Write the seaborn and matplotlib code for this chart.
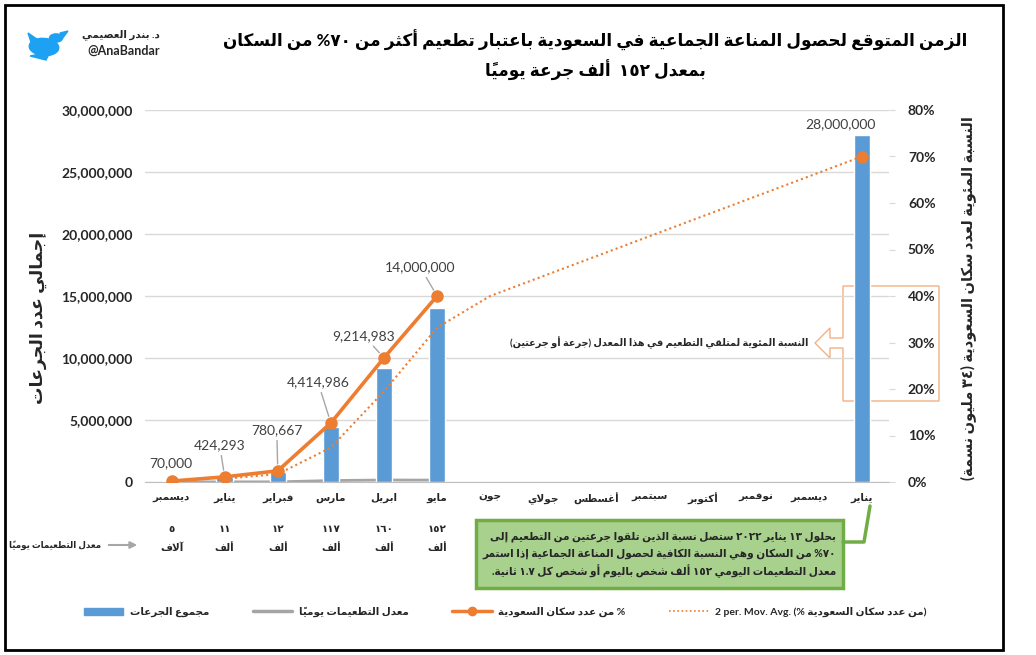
import matplotlib
matplotlib.use('Agg')
import numpy as np
import pandas as pd
import matplotlib.pyplot as plt
import seaborn as sns
from matplotlib.patches import Rectangle, Polygon, Patch, Ellipse, Circle
from matplotlib.lines import Line2D

nan = np.nan

# ---- data ----
months = ['ديسمبر', 'يناير', 'فبراير', 'مارس', 'ابريل', 'مايو', 'جون', 'جولاي',
          'أغسطس', 'سبتمبر', 'أكتوبر', 'نوفمبر', 'ديسمبر', 'يناير']
total_doses = [70000, 424293, 780667, 4414986, 9214983, 14000000,
               nan, nan, nan, nan, nan, nan, nan, 28000000]
daily_rate = [5000, 11000, 12000, 117000, 160000, 152000,
              nan, nan, nan, nan, nan, nan, nan, nan]
pct_population = [0.002, 0.011, 0.024, 0.127, 0.267, 0.40,
                  nan, nan, nan, nan, nan, nan, nan, 0.70]
moving_avg = [nan, 0.007, 0.017, 0.074, 0.195, 0.332, 0.40,
              nan, nan, nan, nan, nan, nan, 0.70]
rate_numbers = ['٥', '١١', '١٢', '١١٧', '١٦٠', '١٥٢']
rate_units = ['آلاف', 'ألف', 'ألف', 'ألف', 'ألف', 'ألف']

title_lines = ['الزمن المتوقع لحصول المناعة الجماعية في السعودية باعتبار تطعيم أكثر من ٧٠% من السكان',
               'بمعدل ١٥٢  ألف جرعة يومياً']
left_label = 'إجمالي عدد الجرعات'
right_label = 'النسبة المئوية لعدد سكان السعودية (٣٤ مليون نسمة)'
rate_row_label = 'معدل التطعيمات يومياً'
callout_text = 'النسبة المئوية لمتلقي التطعيم في هذا المعدل (جرعة أو جرعتين)'
note_lines = ['بحلول ١٣ يناير ٢٠٢٢ ستصل نسبة الذين تلقوا جرعتين من التطعيم إلى',
              '٧٠% من السكان وهي النسبة الكافية لحصول المناعة الجماعية إذا استمر',
              'معدل التطعيمات اليومي ١٥٢ ألف شخص باليوم أو شخص كل ١.٧ ثانية.']
legend_labels = ['مجموع الجرعات', 'معدل التطعيمات يومياً', '% من عدد سكان السعودية',
                 '2 per. Mov. Avg. (% من عدد سكان السعودية)']


# ---- tiny Arabic shaping + bidi, matplotlib draws glyphs left to right ----
FORMS = {
    'ء': (0xFE80, 'U'), 'آ': (0xFE81, 'R'), 'أ': (0xFE83, 'R'), 'ؤ': (0xFE85, 'R'),
    'إ': (0xFE87, 'R'), 'ئ': (0xFE89, 'D'), 'ا': (0xFE8D, 'R'), 'ب': (0xFE8F, 'D'),
    'ة': (0xFE93, 'R'), 'ت': (0xFE95, 'D'), 'ث': (0xFE99, 'D'), 'ج': (0xFE9D, 'D'),
    'ح': (0xFEA1, 'D'), 'خ': (0xFEA5, 'D'), 'د': (0xFEA9, 'R'), 'ذ': (0xFEAB, 'R'),
    'ر': (0xFEAD, 'R'), 'ز': (0xFEAF, 'R'), 'س': (0xFEB1, 'D'), 'ش': (0xFEB5, 'D'),
    'ص': (0xFEB9, 'D'), 'ض': (0xFEBD, 'D'), 'ط': (0xFEC1, 'D'), 'ظ': (0xFEC5, 'D'),
    'ع': (0xFEC9, 'D'), 'غ': (0xFECD, 'D'), 'ف': (0xFED1, 'D'), 'ق': (0xFED5, 'D'),
    'ك': (0xFED9, 'D'), 'ل': (0xFEDD, 'D'), 'م': (0xFEE1, 'D'), 'ن': (0xFEE5, 'D'),
    'ه': (0xFEE9, 'D'), 'و': (0xFEED, 'R'), 'ى': (0xFEEF, 'R'), 'ي': (0xFEF1, 'D'),
}
LAM_ALEF = {'آ': 0xFEF5, 'أ': 0xFEF7, 'إ': 0xFEF9, 'ا': 0xFEFB}
MARKS = set(chr(c) for c in range(0x064B, 0x0653))
MIRROR = {'(': ')', ')': '('}


def join_type(c):
    if c == 'ـ':
        return 'D'
    return FORMS[c][1] if c in FORMS else None


def shape(text):
    base = []
    for ch in text:
        if ch in MARKS and base:
            base[-1][1] += ch
        else:
            base.append([ch, ''])
    out = []
    i, n = 0, len(base)
    while i < n:
        c, m = base[i]
        jp = i > 0 and join_type(base[i - 1][0]) == 'D' and join_type(c) in ('D', 'R')
        if c == 'ل' and i + 1 < n and base[i + 1][0] in LAM_ALEF:
            out.append(chr(LAM_ALEF[base[i + 1][0]] + (1 if jp else 0)) + m + base[i + 1][1])
            i += 2
            continue
        if c in FORMS:
            b, t = FORMS[c]
            jn = t == 'D' and i + 1 < n and join_type(base[i + 1][0]) in ('D', 'R')
            if t == 'U':
                k = 0
            elif t == 'R':
                k = 1 if jp else 0
            else:
                k = 3 if (jp and jn) else 1 if jp else 2 if jn else 0
            out.append(chr(b + k) + m)
        else:
            out.append(c + m)
        i += 1
    return out


def btype(c):
    ch = c[0]
    if '\u0660' <= ch <= '\u0669':
        return 'AN'
    if ch in '0123456789':
        return 'EN'
    if ch.isalpha():
        o = ord(ch)
        if 0x0600 <= o <= 0x06FF or 0xFB50 <= o <= 0xFEFF:
            return 'R'
        return 'L'
    if ch == '%':
        return 'ET'
    if ch in ',.:/':
        return 'CS'
    return 'ON'


def bidi_line(line):
    cl = shape(line)
    t = [btype(c) for c in cl]
    n = len(t)
    para = next((x for x in t if x in ('L', 'R')), 'L')
    for i in range(1, n - 1):
        if t[i] == 'CS' and t[i - 1] == t[i + 1] and t[i - 1] in ('EN', 'AN'):
            t[i] = t[i - 1]
    for i in range(n):
        if t[i] == 'ET' and ((i > 0 and t[i - 1] == 'EN') or (i + 1 < n and t[i + 1] == 'EN')):
            t[i] = 'EN'
    t = ['ON' if x in ('CS', 'ET') else x for x in t]
    last = para
    for i in range(n):
        if t[i] in ('L', 'R'):
            last = t[i]
        elif t[i] == 'EN' and last == 'L':
            t[i] = 'L'

    def strong(x):
        return 'L' if x == 'L' else 'R'

    i = 0
    while i < n:
        if t[i] == 'ON':
            j = i
            while j < n and t[j] == 'ON':
                j += 1
            left = strong(t[i - 1]) if i > 0 else para
            right = strong(t[j]) if j < n else para
            d = left if left == right else para
            for k in range(i, j):
                t[k] = d
            i = j
        else:
            i += 1
    if para == 'L':
        lv = [0 if x == 'L' else 1 if x == 'R' else 2 for x in t]
    else:
        lv = [1 if x == 'R' else 2 for x in t]
    cl = [MIRROR.get(c, c) if lv[k] % 2 else c for k, c in enumerate(cl)]
    for level in range(max(lv + [0]), 0, -1):
        i = 0
        while i < n:
            if lv[i] >= level:
                j = i
                while j < n and lv[j] >= level:
                    j += 1
                cl[i:j] = cl[i:j][::-1]
                lv[i:j] = lv[i:j][::-1]
                i = j
            else:
                i += 1
    return ''.join(cl)


def ar(text):
    return '\n'.join(bidi_line(s) for s in text.split('\n'))


# ---- figure ----
sns.set_style('white')
plt.rcParams['font.family'] = ['Lato', 'DejaVu Sans']

W, H = 1036, 655


def fx(x):
    return x / W


def fy(y):
    return 1 - y / H


BLUE = '#5B9BD5'
ORANGE = '#ED7D31'
GRAY = '#A5A5A5'
GREEN = '#70AD47'
DARK = '#262626'

fig = plt.figure(figsize=(W / 100, H / 100), dpi=100)
ax = fig.add_axes([fx(145), fy(482), (888.5 - 145) / W, 372 / H])
ax.patch.set_alpha(0)

df = pd.DataFrame({'pos': list(range(len(months))), 'total': total_doses})
sns.barplot(data=df, x='pos', y='total', ax=ax, color=BLUE, saturation=1,
            width=0.31, errorbar=None, zorder=2)
ax.plot(range(len(months)), daily_rate, color=GRAY, lw=2.0, zorder=1.5)

ax.set_xlim(-0.5, len(months) - 0.5)
ax.set_ylim(0, 30_000_000)
ax.set_yticks(np.arange(0, 30_000_001, 5_000_000))
ax.set_yticklabels([f'{int(v):,}' for v in ax.get_yticks()],
                   fontsize=10, fontweight='bold', color=DARK)
ax.grid(axis='y', color='#D9D9D9', lw=1)
ax.set_axisbelow(True)
ax.set_xlabel('')
ax.set_ylabel('')
ax.set_xticks(range(len(months)))
ax.set_xticklabels([ar(m) for m in months], fontsize=7.5, fontweight='bold', color=DARK)
ax.set_xticks(np.arange(-0.5, len(months), 1), minor=True)
ax.tick_params(axis='x', which='major', length=0, pad=8)
ax.tick_params(axis='x', which='minor', length=8, direction='inout', color='#BFBFBF')
ax.tick_params(axis='y', length=0, pad=9)
for s in ['left', 'right', 'top']:
    ax.spines[s].set_visible(False)
ax.spines['bottom'].set_color('#BFBFBF')

ax2 = ax.twinx()
ax2.set_ylim(0, 0.8)
ax2.set_yticks(np.arange(0, 0.81, 0.1))
ax2.set_yticklabels([f'{int(round(v * 100))}%' for v in ax2.get_yticks()],
                    fontsize=10, fontweight='bold', color=DARK)
ax2.tick_params(axis='y', length=4, color='#D9D9D9', pad=10)
for s in ax2.spines.values():
    s.set_visible(False)

pos = np.arange(len(months))
ma = pd.Series(moving_avg)
ax2.plot(pos[ma.notna()], ma.dropna(), color=ORANGE, lw=1.5, ls=(0, (1, 1.5)), zorder=3)
ax2.plot(pos, pct_population, color=ORANGE, lw=2.6, marker='o', ms=8, zorder=4)

# value labels with leader lines (offsets in pixels from the point)
label_offsets = [(-1, 18), (-5, 32), (-1, 41), (-13, 41), (-20, 22), (-17, 29)]
for i, (dx, dy) in enumerate(label_offsets):
    has_leader = i > 0
    ax2.annotate(f'{int(total_doses[i]):,}', xy=(i, pct_population[i]),
                 xytext=(dx, dy), textcoords='offset pixels', ha='center', va='center',
                 fontsize=10, color='#404040', zorder=5,
                 arrowprops=dict(arrowstyle='-', color='#A6A6A6', lw=1,
                                 shrinkA=1, shrinkB=5) if has_leader else None)
ax.annotate(f'{int(total_doses[13]):,}', xy=(13, total_doses[13]), xytext=(-21, 11),
            textcoords='offset pixels', ha='center', va='center', fontsize=10, color='#404040')

# daily rate row under the months
for i, (num, unit) in enumerate(zip(rate_numbers, rate_units)):
    ax.annotate(ar(num), xy=(i, 0), xycoords=('data', 'axes fraction'), xytext=(0, -48),
                textcoords='offset pixels', ha='center', va='center',
                fontsize=7.5, fontweight='bold', color=DARK, annotation_clip=False)
    ax.annotate(ar(unit), xy=(i, 0), xycoords=('data', 'axes fraction'), xytext=(0, -66),
                textcoords='offset pixels', ha='center', va='center',
                fontsize=7.5, fontweight='bold', color=DARK, annotation_clip=False)
fig.text(fx(101), fy(545), ar(rate_row_label), ha='right', va='center',
         fontsize=6.3, fontweight='bold', color=DARK)
fig.add_artist(matplotlib.patches.FancyArrowPatch(
    (fx(106), fy(545)), (fx(140), fy(545)), transform=fig.transFigure,
    arrowstyle='-|>', mutation_scale=10, color='#A6A6A6', lw=1.5))

# titles and axis labels
fig.text(fx(595), fy(40), ar(title_lines[0]), ha='center', va='center',
         fontsize=12.2, fontweight='bold', color='black')
fig.text(fx(595), fy(70), ar(title_lines[1]), ha='center', va='center',
         fontsize=12.2, fontweight='bold', color='black')
fig.text(fx(38), fy(318), ar(left_label), rotation=90, ha='center', va='center',
         fontsize=12.5, fontweight='bold', color=DARK)
fig.text(fx(968), fy(298), ar(right_label), rotation=90, ha='center', va='center',
         fontsize=10.5, fontweight='bold', color=DARK)

# left arrow callout near the right axis
callout_px = [(843, 286), (939, 286), (939, 401), (843, 401), (843, 348), (830, 348),
              (830, 358), (815, 343), (830, 328), (830, 338), (843, 338)]
fig.add_artist(Polygon([(fx(x), fy(y)) for x, y in callout_px], closed=True,
                       transform=fig.transFigure, fill=False, ec='#F4B183', lw=1, zorder=-1))
fig.text(fx(808), fy(343), ar(callout_text), ha='right', va='center',
         fontsize=7, fontweight='bold', color=DARK)

# green note box with connector
fig.add_artist(Rectangle((fx(476), fy(588)), (843 - 476) / W, 68 / H,
                         transform=fig.transFigure, fc='#A9D18E', ec=GREEN, lw=2.5))
fig.add_artist(Line2D([fx(843), fx(864), fx(870)], [fy(542), fy(542), fy(506)],
                      transform=fig.transFigure, color=GREEN, lw=2.5))
for k, line in enumerate(note_lines):
    fig.text(fx(836), fy(537 + 17 * k), ar(line), ha='right', va='center',
             fontsize=7.6, fontweight='bold', color=DARK)

# legend
handles = [Patch(color=BLUE),
           Line2D([], [], color=GRAY, lw=2.5),
           Line2D([], [], color=ORANGE, lw=2.5, marker='o', ms=6),
           Line2D([], [], color=ORANGE, lw=1.2, ls=(0, (1, 1.5)))]
leg = fig.legend(handles, [ar(s) for s in legend_labels], ncol=4, loc='center',
                 bbox_to_anchor=(fx(505), fy(612)), frameon=False, handlelength=3.8,
                 columnspacing=4.2, handletextpad=0.6, prop={'size': 7.5, 'weight': 'bold'})

# twitter badge
bird = '#1DA1F2'
fig.add_artist(Ellipse((fx(44), fy(47)), 30 / W, 17 / H, angle=-25,
                       transform=fig.transFigure, color=bird))
fig.add_artist(Circle((fx(56), fy(38)), 6.5 / W, transform=fig.transFigure, color=bird))
fig.add_artist(Polygon([(fx(60), fy(33)), (fx(68), fy(31)), (fx(62), fy(39))],
                       transform=fig.transFigure, color=bird))
fig.add_artist(Polygon([(fx(28), fy(33)), (fx(44), fy(44)), (fx(33), fy(48))],
                       transform=fig.transFigure, color=bird))
fig.add_artist(Polygon([(fx(30), fy(56)), (fx(46), fy(60)), (fx(50), fy(52))],
                       transform=fig.transFigure, color=bird))
fig.text(fx(160), fy(35), ar('د. بندر العصيمي'), ha='right', va='center',
         fontsize=7.5, fontweight='bold', color=DARK)
fig.text(fx(160), fy(51), '@AnaBandar', ha='right', va='center',
         fontsize=9, fontweight='bold', color=DARK)

# outer frame
fig.add_artist(Rectangle((fx(5), fy(650)), 998 / W, 645 / H, transform=fig.transFigure,
                         fill=False, ec='black', lw=2))

fig.savefig('out.png', dpi=100, facecolor='white')
